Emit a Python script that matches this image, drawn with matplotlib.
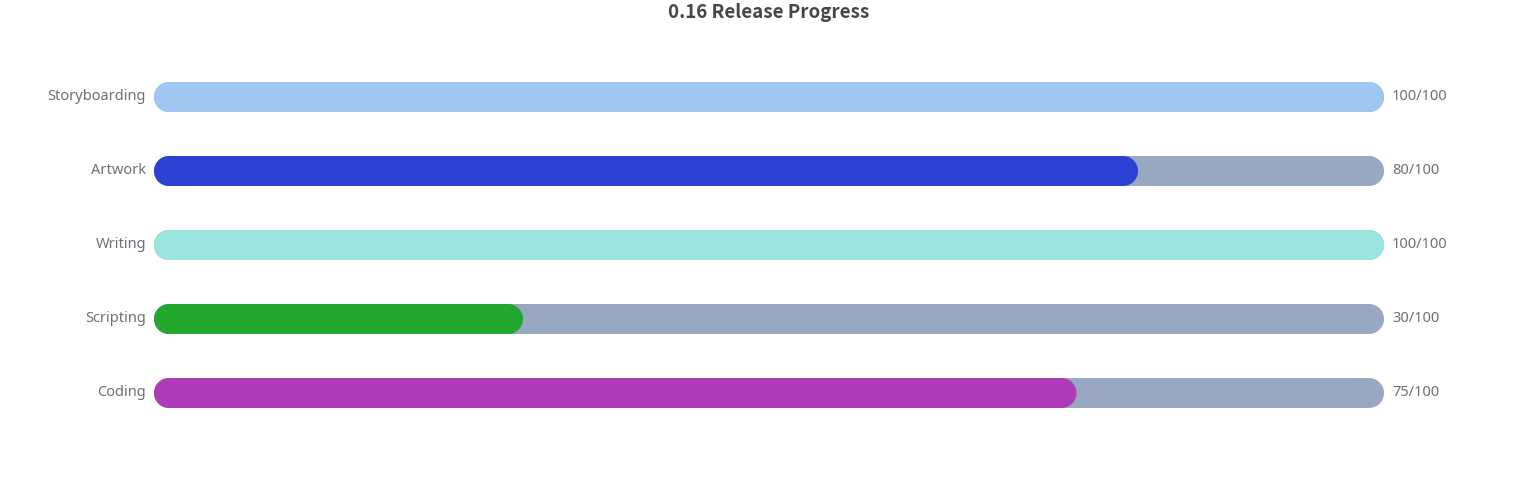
import matplotlib
matplotlib.use("Agg")
import numpy as np
import matplotlib.pyplot as plt
from matplotlib.patches import Polygon

plt.rcParams['font.family'] = ['Noto Sans', 'DejaVu Sans']

tasks = ["Storyboarding", "Artwork", "Writing", "Scripting", "Coding"]
done = [100, 80, 100, 30, 75]
total = [100, 100, 100, 100, 100]
colors = ["#9fc7f2", "#2c40d4", "#9be5df", "#22a82d", "#ae3ab8"]
track_color = "#97a8c0"
text_color = "#6e7079"

W, H = 1538, 500
fig = plt.figure(figsize=(W / 100, H / 100), dpi=100)
# axes placed in pixel terms: x 154..1384, rows centred at 97..393 (74 px apart)
left, right = 154, 1384
top_px, bot_px = 97 - 37, 393 + 37
ax = fig.add_axes([left / W, 1 - bot_px / H, (right - left) / W, (bot_px - top_px) / H])
ax.set_xlim(0, 100)
ax.set_ylim(len(tasks) - 0.5, -0.5)
ax.axis('off')

px_x = (right - left) / 100.0          # pixels per x unit
px_y = (bot_px - top_px) / len(tasks)  # pixels per y unit
rx = 15 / px_x   # cap radius in x units
ry = 15 / px_y   # cap radius in y units


def rounded_bar(width, y, color):
    # stadium shape: semicircle caps at both ends
    t1 = np.linspace(np.pi / 2, 3 * np.pi / 2, 40)
    t2 = np.linspace(-np.pi / 2, np.pi / 2, 40)
    xs = np.concatenate([rx + rx * np.cos(t1), width - rx + rx * np.cos(t2)])
    ys = np.concatenate([y + ry * np.sin(t1), y + ry * np.sin(t2)])
    ax.add_patch(Polygon(np.column_stack([xs, ys]), closed=True,
                         facecolor=color, edgecolor='none', linewidth=0))


for i, (name, d, t, c) in enumerate(zip(tasks, done, total, colors)):
    rounded_bar(100, i, track_color)
    rounded_bar(100 * d / t, i, c)
    ax.text(-8 / px_x, i, name, ha='right', va='center', fontsize=10.5, color=text_color)
    ax.text(100 + 8 / px_x, i, f"{d}/{t}", ha='left', va='center', fontsize=10.5, color=text_color)

fig.text(769 / W, 1 - 13 / H, "0.16 Release Progress", ha='center', va='center',
         fontsize=13.5, fontweight='bold', color='#464646',
         family=['Noto Sans CJK SC', 'DejaVu Sans'])

fig.savefig("out.png", dpi=100, facecolor='white')
